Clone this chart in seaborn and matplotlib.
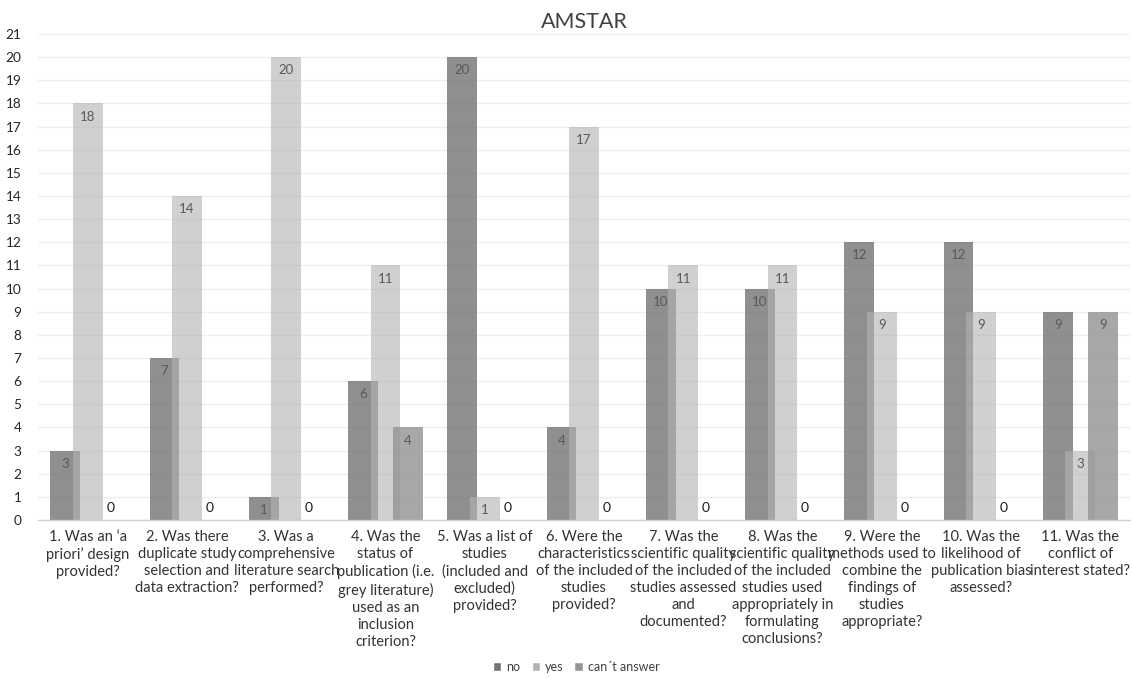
import matplotlib
matplotlib.use("Agg")
import matplotlib.pyplot as plt
import seaborn as sns
import pandas as pd

# Survey items (AMSTAR checklist)
questions = [
    "1. Was an \u2018a\npriori\u2019 design\nprovided?",
    "2. Was there\nduplicate study\nselection and\ndata extraction?",
    "3. Was a\ncomprehensive\nliterature search\nperformed?",
    "4. Was the\nstatus of\npublication (i.e.\ngrey literature)\nused as an\ninclusion\ncriterion?",
    "5. Was a list of\nstudies\n(included and\nexcluded)\nprovided?",
    "6. Were the\ncharacteristics\nof the included\nstudies\nprovided?",
    "7. Was the\nscientific quality\nof the included\nstudies assessed\nand\ndocumented?",
    "8. Was the\nscientific quality\nof the included\nstudies used\nappropriately in\nformulating\nconclusions?",
    "9. Were the\nmethods used to\ncombine the\nfindings of\nstudies\nappropriate?",
    "10. Was the\nlikelihood of\npublication bias\nassessed?",
    "11. Was the\nconflict of\ninterest stated?",
]
answers = ["no", "yes", "can\u00b4t answer"]
no_counts = [3, 7, 1, 6, 20, 4, 10, 10, 12, 12, 9]
yes_counts = [18, 14, 20, 11, 1, 17, 11, 11, 9, 9, 3]
cant_counts = [0, 0, 0, 4, 0, 0, 0, 0, 0, 0, 9]
y_ticks = list(range(0, 22))

df = pd.DataFrame({
    "question": questions * 3,
    "answer": [answers[0]] * 11 + [answers[1]] * 11 + [answers[2]] * 11,
    "count": no_counts + yes_counts + cant_counts,
})

sns.set_theme(style="white")
plt.rcParams["font.family"] = ["Lato", "DejaVu Sans"]

fig = plt.figure(figsize=(11.32, 6.78), dpi=100)
ax = fig.add_axes([38 / 1132, 1 - 520 / 678, 1092 / 1132, 486 / 678])

palette = {answers[0]: "#737373", answers[1]: "#b3b3b3", answers[2]: "#969696"}
alphas = [0.8, 0.62, 0.83]

sns.barplot(data=df, x="question", y="count", hue="answer", hue_order=answers,
            order=questions, palette=palette, width=0.68, saturation=1,
            ax=ax, zorder=2)

# widen bars so neighbours overlap slightly, with transparency
bar_w = 0.30
for cont, a in zip(ax.containers, alphas):
    for p in cont.patches:
        cx = p.get_x() + p.get_width() / 2
        p.set_width(bar_w)
        p.set_x(cx - bar_w / 2)
        p.set_alpha(a)
        p.set_edgecolor("none")

# value labels
for cont in ax.containers:
    for p in cont.patches:
        h = p.get_height()
        cx = p.get_x() + p.get_width() / 2
        if h > 0:
            ax.annotate(f"{h:.0f}", (cx, h), xytext=(0, -9.5), textcoords="offset points",
                        ha="center", va="center", fontsize=9.5, color="#595959", zorder=5)
        else:
            ax.annotate(f"{h:.0f}", (cx, 0), xytext=(0, 9), textcoords="offset points",
                        ha="center", va="center", fontsize=10, color="#1a1a1a", zorder=5)

handles, labels = ax.get_legend_handles_labels()
if ax.get_legend() is not None:
    ax.get_legend().remove()

ax.set_ylim(0, 21)
ax.set_yticks(y_ticks)
ax.set_xlabel("")
ax.set_ylabel("")
ax.yaxis.grid(True, color="#eeeeee", linewidth=0.9, zorder=0)
ax.set_axisbelow(True)
for s in ["top", "right", "left"]:
    ax.spines[s].set_visible(False)
ax.spines["bottom"].set_color("#d0d0d0")
ax.spines["bottom"].set_linewidth(1.0)
ax.tick_params(axis="both", length=0)
ax.tick_params(axis="y", labelsize=9.8, labelcolor="#262626", pad=12)
ax.tick_params(axis="x", labelsize=10.5, labelcolor="#333333", pad=7)
for t in ax.get_xticklabels():
    t.set_ha("center")
    t.set_multialignment("center")
    t.set_linespacing(1.28)

ax.set_title("AMSTAR", fontsize=15.5, color="#404040", pad=4)

fig.legend(handles, labels, loc="center", bbox_to_anchor=(0.509, 1 - 667 / 678),
           ncol=3, frameon=False, fontsize=9, handlelength=0.65, handleheight=0.65,
           columnspacing=0.9, handletextpad=0.4, labelcolor="#404040")

fig.savefig("out.png", dpi=100)
